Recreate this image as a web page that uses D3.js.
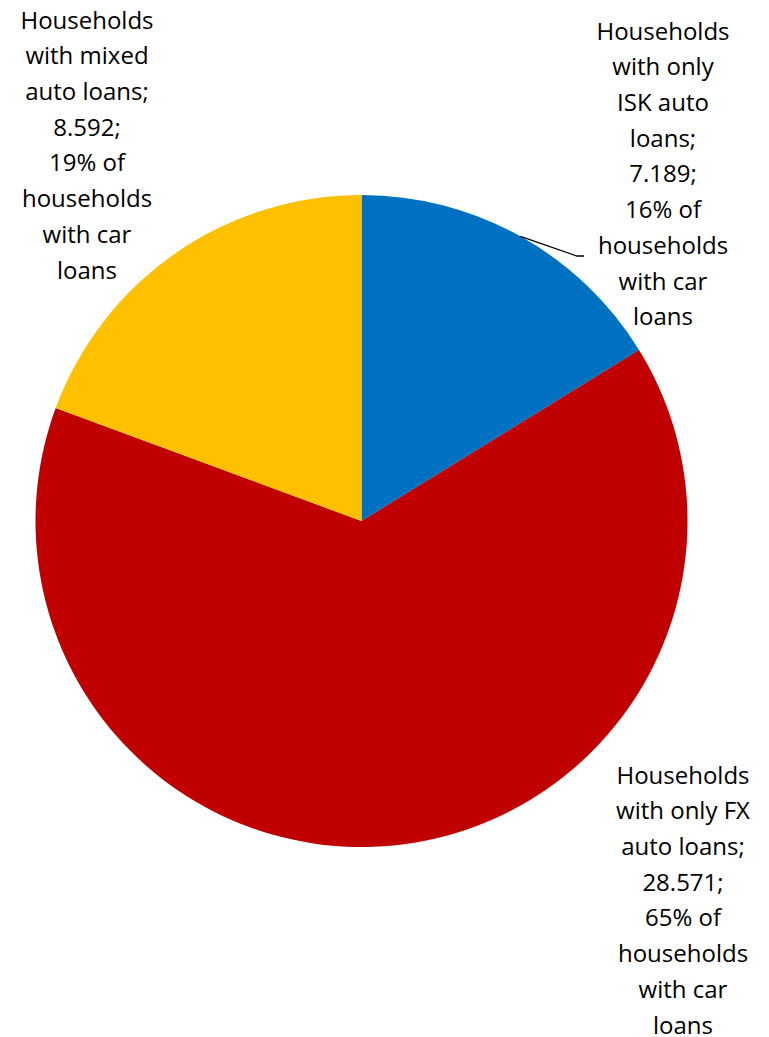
<!DOCTYPE html>
<html>
<head>
<meta charset="utf-8">
<script src="https://cdn.jsdelivr.net/npm/d3@7"></script>
<style>
  html, body { margin: 0; padding: 0; background: #fff; }
  svg { display: block; }
</style>
</head>
<body>
<svg id="chart" width="769" height="1037"></svg>
<script>
// Auto-loan households by loan currency
const categories = [
  "Households with only ISK auto loans",
  "Households with only FX auto loans",
  "Households with mixed auto loans"
];
const values = [7.189, 28.571, 8.592];
const valueLabels = ["7.189", "28.571", "8.592"];
const shareLabels = ["16%", "65%", "19%"];
const colors = ["#0070C0", "#C00000", "#FFC000"];

// Wrapped label lines for each slice
const labelLines = [
  ["Households", "with only", "ISK auto", "loans;", valueLabels[0] + ";", shareLabels[0] + " of", "households", "with car", "loans"],
  ["Households", "with only FX", "auto loans;", valueLabels[1] + ";", shareLabels[1] + " of", "households", "with car", "loans"],
  ["Households", "with mixed", "auto loans;", valueLabels[2] + ";", shareLabels[2] + " of", "households", "with car", "loans"]
];

const svg = d3.select("#chart");
const cx = 361.5, cy = 521, radius = 326;

const pie = d3.pie().sort(null).value(d => d);
const arcs = pie(values);
const arc = d3.arc().innerRadius(0).outerRadius(radius);

const g = svg.append("g").attr("transform", `translate(${cx},${cy})`);
g.selectAll("path")
  .data(arcs)
  .join("path")
  .attr("d", arc)
  .attr("fill", (d, i) => colors[i]);

// Label block positions (centre x, first-line y) and line spacing
const labelPos = [
  { x: 663, y: 31 },
  { x: 683, y: 775 },
  { x: 87, y: 20 }
];
const lineGap = 35.7;

const labels = svg.append("g")
  .attr("font-family", "'Open Sans', sans-serif")
  .attr("font-size", 24)
  .attr("fill", "#000")
  .attr("text-anchor", "middle");

labelLines.forEach((lines, i) => {
  const t = labels.append("text");
  lines.forEach((ln, j) => {
    t.append("tspan")
      .attr("x", labelPos[i].x)
      .attr("y", labelPos[i].y + j * lineGap)
      .attr("dy", "0.36em")
      .text(ln);
  });
});

// Leader line from the ISK slice edge to its label
const a0 = (arcs[0].startAngle + arcs[0].endAngle) / 2;
const edge = [Math.sin(a0) * radius + cx, -Math.cos(a0) * radius + cy];
svg.append("polyline")
  .attr("points", `${edge[0]},${edge[1]} 577,256 584,256`)
  .attr("fill", "none")
  .attr("stroke", "#000")
  .attr("stroke-width", 1.3);
</script>
</body>
</html>
